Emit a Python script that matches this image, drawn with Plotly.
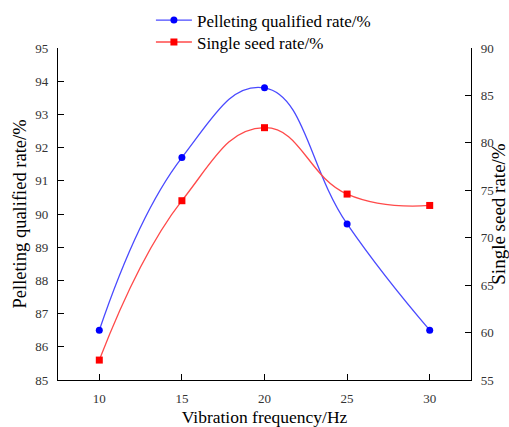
import plotly.graph_objects as go

freq = [10, 15, 20, 25, 30]
pelleting = [86.5, 91.7, 93.8, 89.7, 86.5]
single_seed = [57.1, 73.9, 81.6, 74.6, 73.4]

font_family = "Liberation Serif"

fig = go.Figure()
fig.add_trace(go.Scatter(
    x=freq, y=pelleting, name="Pelleting qualified rate/%",
    mode="lines+markers", line=dict(color="#4a4aff", width=1.3, shape="spline", smoothing=1.3),
    marker=dict(color="#0000ff", size=7, symbol="circle"), yaxis="y", legend="legend",
    showlegend=True))
fig.add_trace(go.Scatter(
    x=freq, y=single_seed, name="Single seed rate/%",
    mode="lines+markers", line=dict(color="#ff4a4a", width=1.3, shape="spline", smoothing=1.3),
    marker=dict(color="#ff0000", size=7, symbol="square"), yaxis="y2", legend="legend2",
    showlegend=True))

axis_common = dict(showgrid=False, zeroline=False, showline=True, linecolor="black", linewidth=1.3,
                   ticks="inside", ticklen=6, tickcolor="black", tickwidth=1.2,
                   tickfont=dict(family=font_family, size=13, color="#333333"))

legend_common = dict(x=0.225, xanchor="left", yanchor="top", bgcolor="rgba(0,0,0,0)",
                     font=dict(family=font_family, size=17, color="black"), itemwidth=36)

fig.update_layout(
    width=509, height=427,
    showlegend=True,
    margin=dict(l=58, r=38, t=48, b=47, autoexpand=False),
    paper_bgcolor="white", plot_bgcolor="white",
    font=dict(family=font_family, color="black"),
    xaxis=dict(range=[7.5, 32.5], tickvals=[10, 15, 20, 25, 30], ticklabelstandoff=6,
               title=dict(text="Vibration frequency/Hz", font=dict(size=17.5), standoff=6),
               **axis_common),
    yaxis=dict(range=[85, 95], dtick=1, ticklabelstandoff=6,
               title=dict(text="Pelleting qualified rate/%", font=dict(size=18.5), standoff=3),
               **axis_common),
    yaxis2=dict(range=[55, 90], dtick=5, overlaying="y", side="right", ticklabelstandoff=6,
                title=dict(text="Single seed rate/%", font=dict(size=19), standoff=10),
                **axis_common),
    legend=dict(y=1.137, **legend_common),
    legend2=dict(y=1.071, **legend_common),
)

fig.write_html("out.html")
